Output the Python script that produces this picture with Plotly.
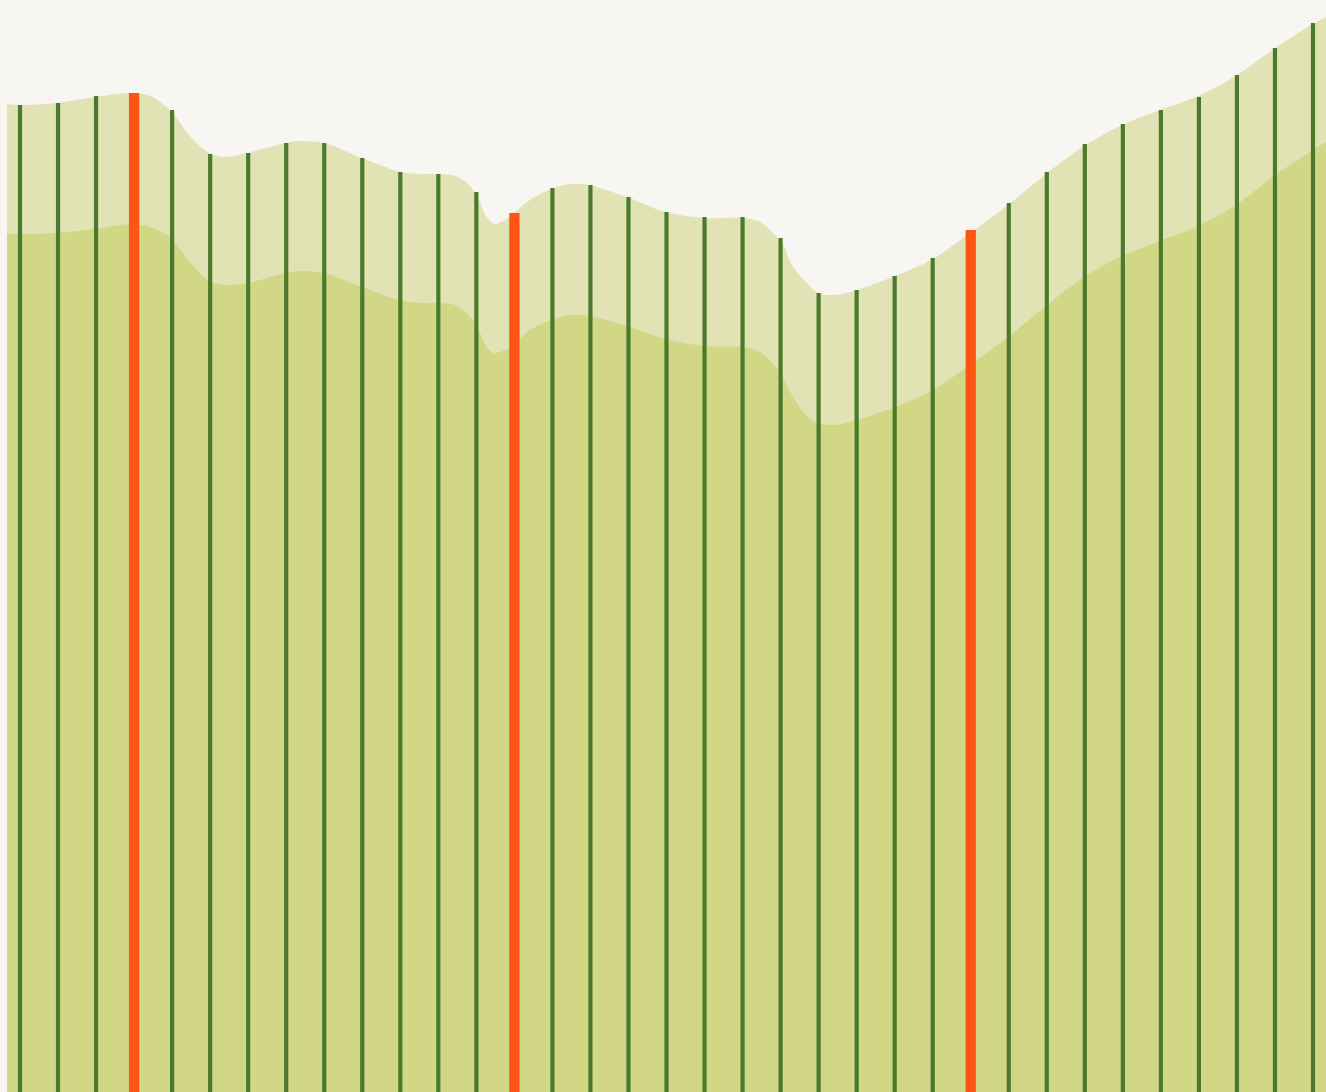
import plotly.graph_objects as go

# Vertical lines (one per period): top values
line_idx = list(range(35))
line_vals = [987, 989, 996, 999, 982, 938, 939, 949, 949, 934, 920, 918, 900, 879,
             904, 907, 895, 880, 875, 875, 854, 799, 802, 816, 834, 862, 889, 920,
             948, 968, 982, 995, 1017, 1044, 1069]
highlight = [3, 13, 25]

# Smoothed band (sample positions in period units)
band_x = [-0.342, 0, 0.95, 1.97, 2.95, 3.42, 3.94, 4.47, 4.97, 5.39, 5.97, 6.99, 7.36,
          7.99, 8.99, 9.47, 9.99, 10.52, 10.99, 11.44, 11.78, 12.04, 12.25, 12.46,
          12.75, 12.99, 13.41, 13.96, 14.46, 14.96, 15.96, 16.96, 17.99, 18.98, 19.41,
          19.77, 20.04, 20.30, 20.64, 20.98, 21.43, 22.01, 23.01, 24.01, 24.98, 25.98,
          26.98, 27.98, 28.98, 29.98, 30.98, 31.97, 32.97, 34.0, 34.342]
band_upper = [988, 987, 989, 995, 999, 996, 982, 956, 939, 935, 939, 949, 951,
              949, 934, 927, 920, 918, 918, 916, 908, 894, 876, 868,
              872, 879, 892, 903, 908, 907, 895, 880, 874, 874, 871,
              860, 849, 827, 811, 799, 797, 802, 816, 833, 859, 887,
              918, 946, 967, 982, 996, 1016, 1043, 1068, 1075]
band_lower = [858, 858, 859, 863, 868, 865, 855, 830, 811, 807, 809, 819, 821,
              819, 805, 798, 792, 789, 789, 787, 778, 764, 746, 739,
              742, 748, 762, 772, 777, 776, 766, 753, 746, 745, 741,
              730, 716, 697, 678, 669, 667, 672, 685, 702, 727, 755,
              786, 815, 836, 851, 866, 887, 916, 942, 950]

BG = "#f7f6f2"
LIGHT = "#e1e3b4"
DARK = "#d2d786"
GREEN = "#4b7a2c"
ORANGE = "#ff5414"

fig = go.Figure()
fig.add_trace(go.Scatter(x=band_x, y=band_upper, mode="lines", fill="tozeroy",
                         fillcolor=LIGHT, line=dict(color=LIGHT, width=0, shape="spline", smoothing=0.9),
                         hoverinfo="skip", showlegend=False))
fig.add_trace(go.Scatter(x=band_x, y=band_lower, mode="lines", fill="tozeroy",
                         fillcolor=DARK, line=dict(color=DARK, width=0, shape="spline", smoothing=0.9),
                         hoverinfo="skip", showlegend=False))

colors = [ORANGE if i in highlight else GREEN for i in line_idx]
widths = [0.27 if i in highlight else 0.11 for i in line_idx]
fig.add_trace(go.Bar(x=line_idx, y=line_vals, width=widths, marker=dict(color=colors, line=dict(width=0)),
                     showlegend=False, xaxis="x2", yaxis="y2"))

fig.update_layout(
    width=1326, height=1092,
    margin=dict(l=7, r=0, t=0, b=0),
    paper_bgcolor=BG, plot_bgcolor=BG,
    xaxis=dict(range=[-0.342, 34.342], visible=False, fixedrange=True),
    yaxis=dict(range=[0, 1092], visible=False, fixedrange=True),
    xaxis2=dict(range=[-0.342, 34.342], visible=False, fixedrange=True, overlaying="x"),
    yaxis2=dict(range=[0, 1092], visible=False, fixedrange=True, overlaying="y"),
    showlegend=False,
)
fig.write_html("out.html", config={"displayModeBar": False},
               post_script="document.body.style.margin='0px';")
